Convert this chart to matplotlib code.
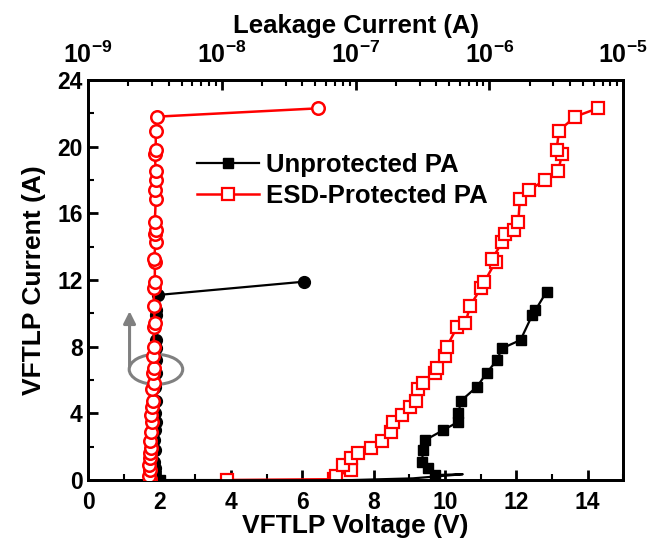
import matplotlib
matplotlib.use("Agg")
import matplotlib.pyplot as plt
from matplotlib.patches import Ellipse
from matplotlib.ticker import MultipleLocator, LogLocator, FixedLocator

plt.rcParams["font.family"] = ["Liberation Sans", "DejaVu Sans"]
plt.rcParams["font.weight"] = "bold"
plt.rcParams["mathtext.fontset"] = "custom"
plt.rcParams["mathtext.rm"] = "Liberation Sans:bold"
plt.rcParams["mathtext.bf"] = "Liberation Sans:bold"

# ESD-protected PA: TLP I-V (bottom axis) and leakage (top axis)
esd_current = [0.0, 0.05, 0.24, 0.6, 0.9, 1.3, 1.64, 1.9, 2.36, 2.9, 3.5, 3.9,
               4.4, 4.75, 5.45, 5.8, 6.45, 6.75, 7.44, 8.0, 9.16, 9.4, 10.44,
               11.5, 11.86, 13.1, 13.24, 14.26, 14.76, 15.0, 15.5, 16.84, 17.4,
               18.0, 18.54, 19.54, 19.8, 20.96, 21.8, 22.3]
esd_voltage = [3.9, 6.9, 6.96, 7.36, 7.14, 7.38, 7.57, 7.93, 8.23, 8.49, 8.55, 8.79,
               9.02, 9.2, 9.25, 9.4, 9.73, 9.77, 10.0, 10.05, 10.34, 10.57, 10.71,
               11.0, 11.1, 11.42, 11.32, 11.6, 11.68, 11.95, 12.06, 12.1, 12.36,
               12.81, 13.18, 13.28, 13.13, 13.2, 13.65, 14.28]
esd_leak = [2.9e-9, 2.9e-9, 2.85e-9, 2.9e-9, 2.85e-9, 2.9e-9, 2.9e-9, 2.95e-9,
            2.9e-9, 2.95e-9, 3.0e-9, 2.95e-9, 3.0e-9, 3.05e-9, 3.0e-9, 3.1e-9,
            3.05e-9, 3.1e-9, 3.05e-9, 3.1e-9, 3.1e-9, 3.15e-9, 3.1e-9, 3.1e-9,
            3.15e-9, 3.15e-9, 3.1e-9, 3.2e-9, 3.15e-9, 3.2e-9, 3.15e-9, 3.2e-9,
            3.15e-9, 3.2e-9, 3.2e-9, 3.15e-9, 3.2e-9, 3.2e-9, 3.25e-9, 5.2e-8]

# Unprotected PA
unprot_voltage = [2.0, 7.4, 9.1, 10.5, 9.73, 9.54, 9.35, 9.4, 9.45, 9.96, 10.38,
                  10.38, 10.45, 10.9, 11.18, 11.46, 11.6, 12.12, 12.45, 12.54, 12.85]
unprot_current = [0.0, 0.0, 0.1, 0.35, 0.3, 0.7, 1.1, 1.8, 2.4, 3.0, 3.5,
                  4.0, 4.75, 5.6, 6.45, 7.2, 7.9, 8.4, 9.9, 10.2, 11.3]
unprot_marks = [0, 4, 5, 6, 7, 8, 9, 10, 11, 12, 13, 14, 15, 16, 17, 18, 19, 20]
unprot_leak_current = [0.0, 0.3, 0.7, 1.1, 1.8, 2.4, 3.0, 3.5, 4.0, 4.75, 5.6,
                       6.45, 7.2, 7.9, 8.4, 9.9, 10.2, 11.1, 11.9]
unprot_leak = [3.1e-9, 3.1e-9, 3.15e-9, 3.1e-9, 3.15e-9, 3.1e-9, 3.15e-9,
               3.2e-9, 3.15e-9, 3.2e-9, 3.15e-9, 3.2e-9, 3.2e-9, 3.2e-9,
               3.2e-9, 3.2e-9, 3.2e-9, 3.3e-9, 4.1e-8]

fig = plt.figure(figsize=(6.68, 5.48), dpi=100)
ax = fig.add_axes([0.132, 0.124, 0.801, 0.730])
ax_top = ax.twiny()

# I-V curves
ax.plot(unprot_voltage, unprot_current, color="black", lw=1.6, marker="s",
        markersize=7.5, markevery=unprot_marks, label="Unprotected PA", zorder=3)
ax.plot(esd_voltage, esd_current, color="red", lw=1.8, marker="s", markersize=8,
        markerfacecolor="white", markeredgecolor="red", markeredgewidth=1.6,
        label="ESD-Protected PA", zorder=4)

# leakage curves
ax_top.plot(unprot_leak, unprot_leak_current, color="black", lw=1.6, marker="o",
            markersize=8.5, zorder=3)
ax_top.plot(esd_leak, esd_current, color="red", lw=1.8, marker="o", markersize=9,
            markerfacecolor="white", markeredgecolor="red", markeredgewidth=1.8,
            zorder=4)

ax.set_xlim(0, 15)
ax.set_ylim(0, 24)
ax_top.set_xscale("log")
ax_top.set_xlim(1e-9, 1e-5)

ax.xaxis.set_major_locator(MultipleLocator(2))
ax.xaxis.set_minor_locator(MultipleLocator(1))
ax.yaxis.set_major_locator(MultipleLocator(4))
ax.yaxis.set_minor_locator(MultipleLocator(2))
ax_top.xaxis.set_major_locator(FixedLocator([1e-9, 1e-8, 1e-7, 1e-6, 1e-5]))
ax_top.xaxis.set_minor_locator(LogLocator(base=10, subs=range(2, 10)))
ax_top.set_xticklabels([r"$\mathbf{10^{-9}}$", r"$\mathbf{10^{-8}}$",
                        r"$\mathbf{10^{-7}}$", r"$\mathbf{10^{-6}}$",
                        r"$\mathbf{10^{-5}}$"])

for a in (ax, ax_top):
    for s in a.spines.values():
        s.set_linewidth(2)
    a.tick_params(which="major", direction="in", length=7, width=2, labelsize=16.5)
    a.tick_params(which="minor", direction="in", length=4, width=1.5)
ax.tick_params(axis="x", pad=8)
ax.tick_params(axis="y", pad=4)
ax_top.tick_params(axis="x", pad=9, labelsize=18)

ax.set_xlabel("VFTLP Voltage (V)", fontsize=19, fontweight="bold", labelpad=0)
ax.set_ylabel("VFTLP Current (A)", fontsize=19, fontweight="bold", labelpad=8)
ax_top.set_xlabel("Leakage Current (A)", fontsize=18.5, fontweight="bold",
                  labelpad=6)

# gray annotation: ellipse + arrow pointing to top axis
ell = Ellipse((1.9, 6.64), 1.5, 1.8, fill=False, edgecolor="#808080", lw=2.2,
              zorder=5)
ax.add_patch(ell)
ax.annotate("", xy=(1.16, 10.3), xytext=(1.16, 6.64),
            arrowprops=dict(arrowstyle="-|>", color="#808080", lw=2.2,
                            mutation_scale=18), zorder=5)

ax.legend(loc="upper left", bbox_to_anchor=(0.16, 0.875), frameon=False,
          handlelength=2.4, labelspacing=0.25, handletextpad=0.3,
          prop={"weight": "bold", "size": 18.5})

fig.savefig("out.png", dpi=100)
